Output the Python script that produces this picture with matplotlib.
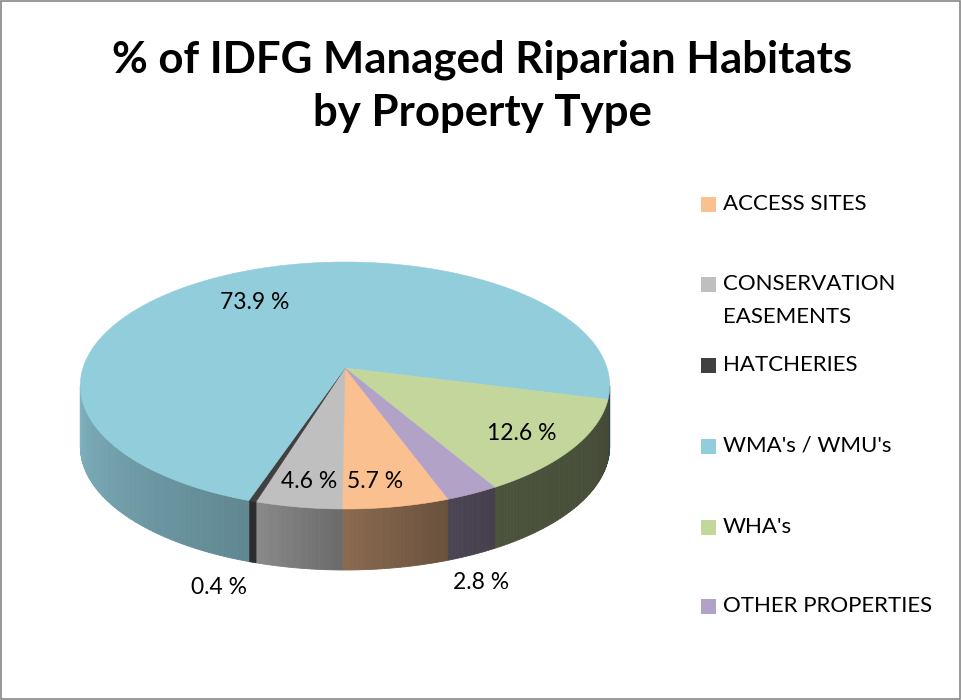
import numpy as np
import matplotlib.pyplot as plt
from matplotlib.patches import Polygon, Rectangle
from matplotlib.colors import to_rgb

# data
categories = ['ACCESS SITES', 'CONSERVATION\nEASEMENTS', 'HATCHERIES',
              "WMA's / WMU's", "WHA's", 'OTHER PROPERTIES']
percent = [5.7, 4.6, 0.4, 73.9, 12.6, 2.8]
colors = ['#FAC090', '#BFBFBF', '#404040', '#92CDDC', '#C3D69B', '#B3A2C7']

# label layout: radius factor, outside flag, small pixel nudges
label_r = [0.82, 0.82, 1.15, 0.75, 0.78, 1.15]
label_out = [False, False, True, False, False, True]
label_dx = [-11, 1, -17, -5, 2, -14]
label_dy = [3, 3, 2, 7, 4, 6]

# legend rows (pixel y of first line)
legend_y = [204, 284, 365, 446, 527, 606]

plt.rcParams['font.family'] = ['Lato', 'DejaVu Sans']

fig = plt.figure(figsize=(9.61, 7.0), dpi=100)
ax = fig.add_axes([0, 0, 1, 1])
ax.set_xlim(0, 961)
ax.set_ylim(700, 0)
ax.axis('off')

# pie geometry in pixels (perspective tilted disc)
cx, cy = 345, 368
A, B, k = 262, 121, 0.1417
depth = 61
start_angle = 160.0  # clockwise from 12 o'clock


def proj(theta, r=1.0):
    t = np.radians(theta)
    u = r * np.sin(t)
    v = -r * np.cos(t)
    d = 1 - k * v
    return cx + A * u / d, cy + B * v / d


def shade(theta):
    th = np.mod(theta, 360)
    return np.interp(th, [98, 150, 160, 180, 197, 199, 262],
                     [0.34, 0.39, 0.42, 0.55, 0.72, 0.66, 0.87])


# silhouette: left / right extremes of the top rim
grid = np.linspace(0, 360, 3601)
gx, _ = proj(grid)
th_right = grid[np.argmax(gx)]
th_left = grid[np.argmin(gx)]

bounds = start_angle + np.concatenate([[0], np.cumsum(percent)]) * 3.6

# side walls
for i, c in enumerate(colors):
    a0, a1 = bounds[i], bounds[i + 1]
    base = np.array(to_rgb(c))
    for shift in (-360, 0, 360):
        s0 = max(a0 + shift, th_right)
        s1 = min(a1 + shift, th_left)
        if s1 <= s0:
            continue
        n = max(2, int(np.ceil((s1 - s0) / 0.75)))
        edges = np.linspace(s0, s1, n + 1)
        for j in range(n):
            tt = np.linspace(edges[j], edges[j + 1], 4)
            xs, ys = proj(tt)
            poly = np.column_stack([np.r_[xs, xs[::-1]],
                                    np.r_[ys, ys[::-1] + depth]])
            col = np.clip(base * shade((edges[j] + edges[j + 1]) / 2), 0, 1)
            ax.add_patch(Polygon(poly, closed=True, facecolor=col,
                                 edgecolor=col, linewidth=0.6, zorder=2))

# top faces
for i, c in enumerate(colors):
    tt = np.linspace(bounds[i], bounds[i + 1], max(3, int(percent[i] * 10)))
    xs, ys = proj(tt)
    poly = np.column_stack([np.r_[cx, xs], np.r_[cy, ys]])
    ax.add_patch(Polygon(poly, closed=True, facecolor=c, edgecolor=c,
                         linewidth=0.4, zorder=3))

# data labels
for i, p in enumerate(percent):
    mid = (bounds[i] + bounds[i + 1]) / 2
    lx, ly = proj(mid, label_r[i])
    if label_out[i]:
        ly += depth
    ax.text(lx + label_dx[i], ly + label_dy[i], f'{p:.1f} %',
            ha='center', va='center', fontsize=16.5, color='black', zorder=5)

# title
title_lines = ['% of IDFG Managed Riparian Habitats', 'by Property Type']
for line, yb in zip(title_lines, [73, 126]):
    ax.text(482, yb, line, ha='center', va='baseline', fontsize=31.5,
            fontweight='bold')

# legend
for name, c, y in zip(categories, colors, legend_y):
    ax.add_patch(Rectangle((701, y - 7), 15, 15, facecolor=c,
                           edgecolor='none', zorder=4))
    for li, part in enumerate(name.split('\n')):
        ax.text(723, y + 33 * li, part, ha='left', va='center', fontsize=16)

# chart border
ax.add_patch(Rectangle((0.5, 0.5), 959.5, 698.5, facecolor='none',
                       edgecolor='#868686', linewidth=1.2, zorder=6))

fig.savefig('out.png', dpi=100)
